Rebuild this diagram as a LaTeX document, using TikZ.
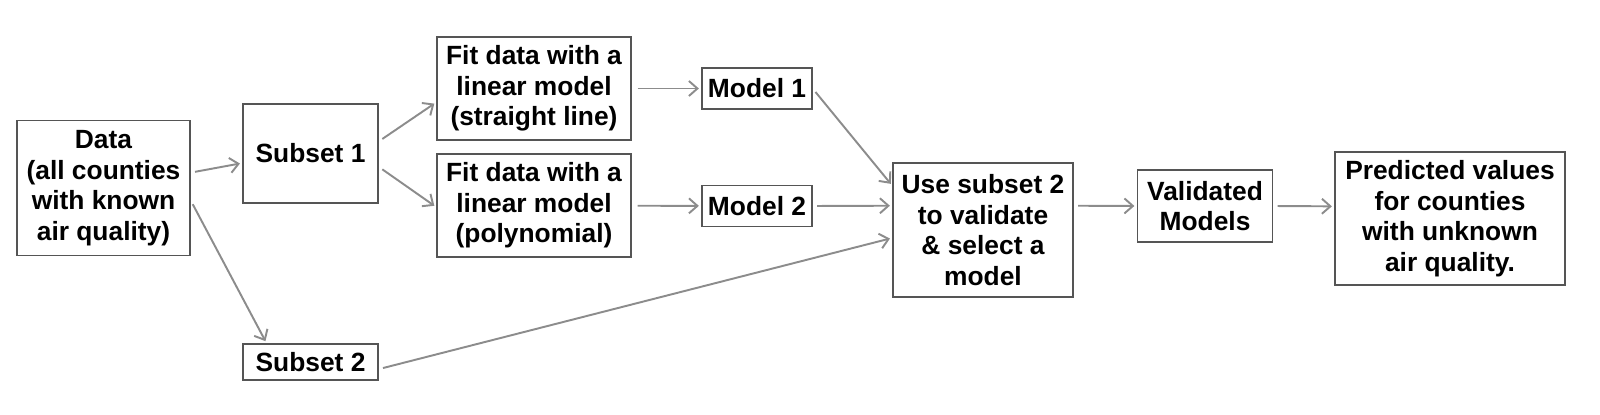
\documentclass[tikz,border=0pt]{standalone}
\usepackage{fontspec}
\setmainfont{Liberation Sans}
\usetikzlibrary{arrows.meta}
\definecolor{boxline}{HTML}{555555}
\definecolor{arrowgray}{HTML}{8C8C8C}
\begin{document}
\begin{tikzpicture}[box/.style={rectangle, draw=boxline, line width=0.7pt, inner sep=0pt, align=center, font=\fontsize{15}{17.4}\selectfont\bfseries},
    flow/.style={draw=arrowgray, line width=1.1pt, -{Straight Barb[length=0.17cm, width=0.3cm]}, shorten <=0.09cm, shorten >=0.05cm}]
    \useasboundingbox (0, 0) rectangle (32, 8.28);

    \node[box, minimum width=3.46cm, minimum height=2.70cm] (data) at (2.07, 4.52) {Data\\(all counties\\with known\\air quality)};
    \node[box, minimum width=2.70cm, minimum height=1.98cm] (subset-1) at (6.21, 5.21) {Subset 1};
    \node[box, minimum width=2.70cm, minimum height=0.72cm] (subset-2) at (6.21, 1.04) {Subset 2};

    \draw[flow] (data.10) -- (subset-1.188);
    \draw[flow] (data.-8) -- (subset-2.157);

    \node[box, minimum width=3.88cm, minimum height=2.06cm] (fit-1) at (10.68, 6.51) {Fit data with a\\linear model\\(straight line)};
    \node[box, minimum width=3.88cm, minimum height=2.06cm] (fit-2) at (10.68, 4.17) {Fit data with a\\linear model\\(polynomial)};

    \draw[flow] (subset-1.10) -- (fit-1.188);
    \draw[flow] (subset-1.-11) -- (fit-2.181);

    \node[box, minimum width=2.20cm, minimum height=0.82cm] (model-1) at (15.14, 6.51) {Model 1};
    \node[box, minimum width=2.20cm, minimum height=0.82cm] (model-2) at (15.14, 4.16) {Model 2};

    \draw[flow, shorten <=0.12cm] (fit-1) -- (model-1);
    \draw[flow, shorten <=0.12cm] (fit-2) -- (model-2);

    \node[box, minimum width=3.60cm, minimum height=2.68cm] (select) at (19.66, 3.68) {Use subset 2\\to validate\\\& select a\\model};

    \draw[flow] (model-1.east) -- (select.154);
    \draw[flow] (model-2.east) -- (select.165);
    \draw[flow] (subset-2.-6) -- (select.185);

    \node[box, minimum width=2.70cm, minimum height=1.44cm] (validated) at (24.10, 4.16) {Validated\\Models};
    \node[box, minimum width=4.60cm, minimum height=2.66cm] (predicted) at (29.00, 3.91) {Predicted values\\for counties\\with unknown\\air quality.};

    \draw[flow] (select.15) -- (validated.west);
    \draw[flow] (validated.east) -- (predicted.174);
\end{tikzpicture}
\end{document}
